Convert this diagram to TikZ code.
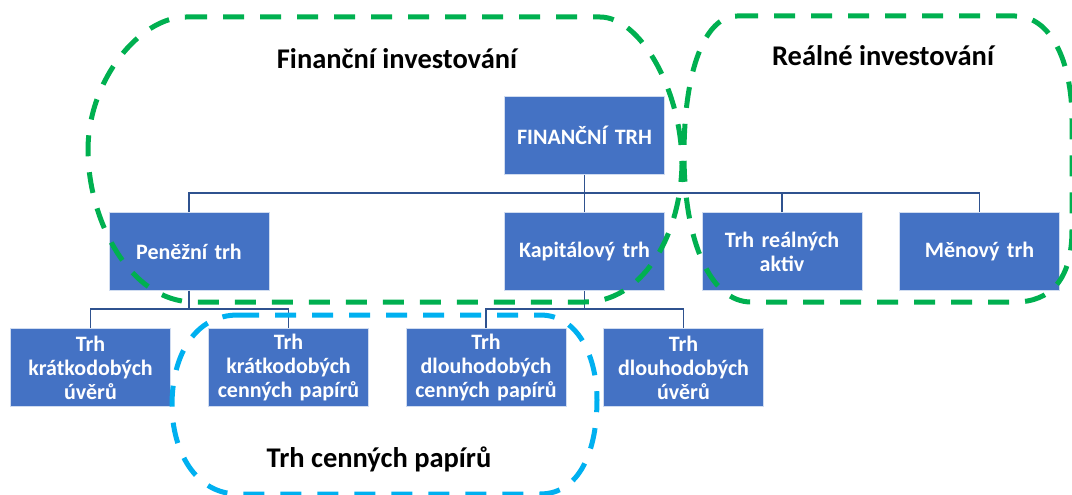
\documentclass[tikz,border=0pt]{standalone}
\usepackage{fontspec}
\setmainfont{Carlito}
\definecolor{boxblue}{HTML}{4472C4}
\definecolor{lineblue}{HTML}{2F528F}
\definecolor{grn}{HTML}{00B050}
\definecolor{cyanb}{HTML}{00B0F0}
\tikzset{
  box/.style={draw=white!75!boxblue, line width=0.8pt, fill=boxblue, text=white,
    font=\bfseries\fontsize{22}{24}\selectfont, align=center, inner sep=0pt,
    minimum width=160pt, minimum height=78pt, text width=156pt},
  conn/.style={draw=lineblue, line width=1.6pt},
  grp/.style={line width=5pt, dash pattern=on 21pt off 16pt, line cap=butt},
  title/.style={font=\bfseries\fontsize{28.5}{32}\selectfont, text=black}
}
\begin{document}
\begin{tikzpicture}[x=1pt,y=-1pt]
\useasboundingbox (0,0) rectangle (1072,495);
% level 1
\node[box] (fin) at (584.5,135.5) {FINANČNÍ TRH};
% level 2
\node[box] (pen) at (189,251.5) {Peněžní trh};
\node[box] (kap) at (584.5,251.5) {Kapitálový trh};
\node[box] (rea) at (782,251.5) {Trh reálných\\aktiv};
\node[box] (men) at (979.5,251.5) {Měnový trh};
% level 3
\node[box] (kuv) at (90.5,367.5) {Trh\\krátkodobých\\úvěrů};
\node[box] (kcp) at (288.5,367.5) {Trh\\krátkodobých\\cenných papírů};
\node[box] (dcp) at (486,367.5) {Trh\\dlouhodobých\\cenných papírů};
\node[box] (duv) at (683.5,367.5) {Trh\\dlouhodobých\\úvěrů};
% connectors
\coordinate (b1) at (0,193);
\coordinate (b2) at (0,309);
\draw[conn] (fin.south) -- (fin.south |- b1);
\draw[conn] (pen.north) -- (pen.north |- b1) -- (men.north |- b1) -- (men.north);
\draw[conn] (kap.north) -- (kap.north |- b1);
\draw[conn] (rea.north) -- (rea.north |- b1);
\draw[conn] (pen.south) -- (pen.south |- b2);
\draw[conn] (kuv.north) -- (kuv.north |- b2) -- (kcp.north |- b2) -- (kcp.north);
\draw[conn] (kap.south) -- (kap.south |- b2);
\draw[conn] (dcp.north) -- (dcp.north |- b2) -- (duv.north |- b2) -- (duv.north);
% group outlines
\draw[grp, draw=grn] (186,17) -- (600,17)
  .. controls (640,17) and (682,90) .. (682,165)
  .. controls (680,240) and (640,302) .. (585,302)
  -- (194,302)
  .. controls (130,302) and (88,220) .. (88,150)
  .. controls (88,80) and (140,17) .. (186,17) -- cycle;
\draw[grp, draw=grn] (737,16) -- (1015,16)
  .. controls (1050,16) and (1072,60) .. (1072,120)
  -- (1072,230)
  .. controls (1072,280) and (1050,302) .. (1015,302)
  -- (751,302)
  .. controls (710,302) and (684,240) .. (684,155)
  .. controls (684,70) and (705,16) .. (737,16) -- cycle;
\draw[grp, draw=cyanb] (238,315) -- (540,315)
  .. controls (580,315) and (597,360) .. (597,400)
  .. controls (597,450) and (580,494) .. (540,494)
  -- (238,494)
  .. controls (195,494) and (172,450) .. (172,405)
  .. controls (172,355) and (195,315) .. (238,315) -- cycle;
% titles
\node[title] (tfi) at (397,59) {Finanční investování};
\node[title] (tre) at (883,56) {Reálné investování};
\node[title] (tcp) at (379,459) {Trh cenných papírů};
\end{tikzpicture}
\end{document}
